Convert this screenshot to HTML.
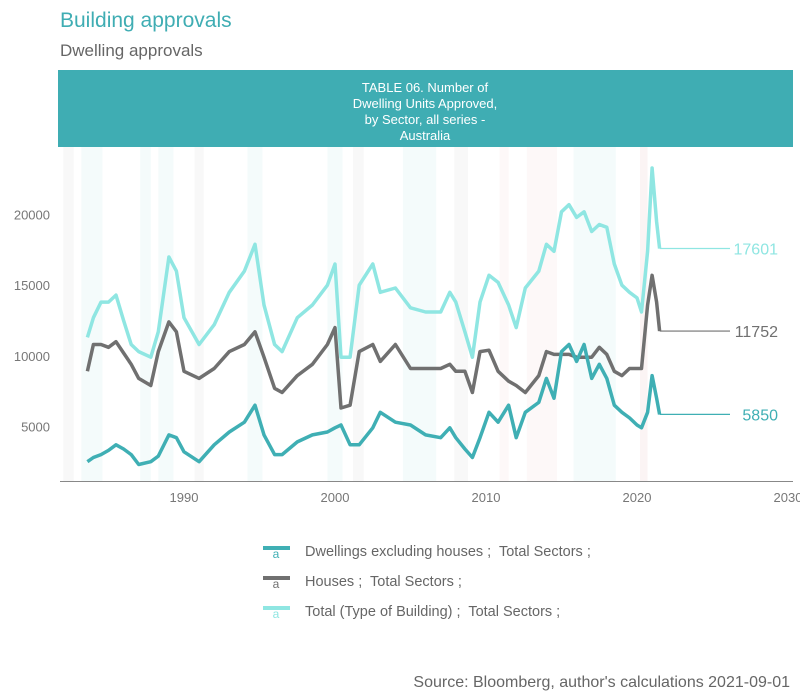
<!DOCTYPE html>
<html><head><meta charset="utf-8"><style>
body{margin:0;background:#fff;font-family:"Liberation Sans",sans-serif;}
#wrap{position:relative;width:800px;height:700px;overflow:hidden;}
text{white-space:pre;}
</style></head><body>
<div id="wrap">
<svg id="chart" width="800" height="700"></svg>
</div>
<script>
const dates=[1983.6,1984,1984.5,1985,1985.5,1986,1986.5,1987,1987.8,1988.3,1989,1989.5,1990,1991,1992,1993,1994,1994.7,1995.3,1996,1996.5,1997.5,1998.5,1999.5,2000,2000.4,2001,2001.6,2002.5,2003,2004,2005,2006,2007,2007.6,2008,2008.6,2009.1,2009.6,2010.2,2010.8,2011.5,2012,2012.6,2013.5,2014,2014.5,2015,2015.5,2016,2016.5,2017,2017.5,2018,2018.5,2019,2019.5,2020,2020.3,2020.7,2021,2021.3,2021.5];
const totalSeries=[11300,12700,13800,13800,14300,12500,10800,10300,9900,11700,17000,16000,12700,10800,12200,14500,16000,17900,13600,10800,10300,12700,13600,15000,16500,9900,9900,15000,16500,14500,14800,13400,13100,13100,14500,13800,11700,9900,13800,15700,15200,13600,12000,14800,16000,17900,17400,20200,20700,19800,20200,18800,19300,19100,16500,15000,14500,14100,13100,17400,23300,19500,17601];
const housesSeries=[8900,10800,10800,10600,11000,10200,9400,8400,7900,10300,12400,11700,8900,8400,9100,10300,10800,11700,9900,7700,7400,8600,9400,10800,12000,6300,6500,10300,10800,9600,10800,9100,9100,9100,9400,8900,8900,7400,10300,10400,8900,8200,7900,7400,8600,10300,10100,10100,10100,9900,9900,9900,10600,10100,8900,8600,9100,9100,9100,13600,15700,13800,11752];
const unitsSeries=[2500,2800,3000,3300,3700,3400,3000,2300,2500,2900,4400,4200,3200,2500,3700,4600,5300,6500,4400,3000,3000,3900,4400,4600,4900,5100,3700,3700,4900,6000,5300,5100,4400,4200,4900,4200,3400,2800,4200,6000,5300,6500,4200,6000,6700,8400,7000,10300,10800,9600,10800,8400,9400,8400,6500,6000,5600,5100,4900,6000,8600,7000,5850];
const xTicks=[1990,2000,2010,2020,2030];
const yTicks=[5000,10000,15000,20000];
const endLabels=["5850","11752","17601"];

const NS="http://www.w3.org/2000/svg";
const svg=document.getElementById('chart');
const X=v=>184+(v-1990)*15.1;
const Y=v=>497-v*0.01412;
function mk(tag,attrs,parent){const e=document.createElementNS(NS,tag);for(const k in attrs)e.setAttribute(k,attrs[k]);(parent||svg).appendChild(e);return e;}
function txt(s,attrs){const t=mk('text',attrs);t.textContent=s;return t;}

const bands=[[1982,1982.7,'#f8f8f8'],[1983.2,1984.6,'#f4fbfb'],[1987.1,1987.8,'#f4fbfb'],[1988.3,1989.3,'#f4fbfb'],[1990.7,1991.3,'#f8f8f8'],[1994.2,1995.2,'#f4fbfb'],[1999.5,2000.5,'#f4fbfb'],[2001.2,2001.9,'#f8f8f8'],[2004.5,2006.7,'#f4fbfb'],[2007.9,2008.8,'#f8f8f8'],[2010.9,2011.5,'#fdf8f8'],[2012.7,2014.7,'#fdf8f8'],[2015.8,2018.6,'#f4fbfb'],[2020.2,2020.7,'#fbf4f4']];
bands.forEach(b=>{const r=mk('rect',{x:X(b[0]),y:147,width:X(b[1])-X(b[0]),height:334,fill:b[2]});

});

const t1=txt('Building approvals',{x:60,y:27,'font-size':21,fill:'#3fadb3'});

const t2=txt('Dwelling approvals',{x:60,y:56,'font-size':17,fill:'#666'});

const ban=mk('rect',{x:58,y:70,width:735,height:77,fill:'#3fadb3'});

['TABLE 06. Number of','Dwelling Units Approved,','by Sector, all series -','Australia'].forEach((s,i)=>{
const t=txt(s,{x:425,y:92+i*16,'font-size':13,fill:'#fff','text-anchor':'middle'});
});

const ax=mk('line',{x1:60,x2:793,y1:481.5,y2:481.5,stroke:'#888','stroke-width':1});

xTicks.forEach(v=>{const t=txt(String(v),{x:X(v),y:502,'font-size':13,fill:'#777','text-anchor':'middle'});
});
yTicks.forEach(v=>{const t=txt(String(v),{x:50,y:Y(v)+5,'font-size':13,fill:'#777','text-anchor':'end'});
});

const series=[[totalSeries,'#8fe6e2','total-line'],[housesSeries,'#707070','houses-line'],[unitsSeries,'#3fafb4','units-line']];
series.forEach(s=>{const d=dates.map((x,i)=>(i?'L':'M')+X(x).toFixed(1)+','+Y(s[0][i]).toFixed(1)).join('');
const p=mk('path',{d:d,fill:'none',stroke:s[1],'stroke-width':3.5,'stroke-linejoin':'round'});
});

const endVals=[unitsSeries,housesSeries,totalSeries].map(a=>a[a.length-1]);
const endCols=['#3fafb4','#707070','#8fe6e2'];
const lastX=X(dates[dates.length-1]);
endVals.forEach((v,i)=>{const l=mk('line',{x1:lastX,x2:730,y1:Y(v),y2:Y(v),stroke:endCols[i],'stroke-width':1.2});

const t=txt(endLabels[i],{x:778,y:Y(v)+6,'font-size':16,fill:endCols[i],'text-anchor':'end'});
});

const legNames=['Dwellings excluding houses ;  Total Sectors ;','Houses ;  Total Sectors ;','Total (Type of Building) ;  Total Sectors ;'];
legNames.forEach((s,i)=>{const y=551+i*30;
const g=mk('g',{});
mk('rect',{x:263,y:y-5,width:27,height:4,fill:endCols[i]},g);
const a=mk('text',{x:276,y:y+7,'font-size':12,fill:endCols[i],'text-anchor':'middle'},g);a.textContent='a';
const t=mk('text',{x:305,y:y+5,'font-size':14.5,fill:'#666'},g);t.textContent=s;});

const src=txt("Source: Bloomberg, author's calculations 2021-09-01",{x:790,y:687,'font-size':16,fill:'#666','text-anchor':'end'});

</script>
</body></html>
